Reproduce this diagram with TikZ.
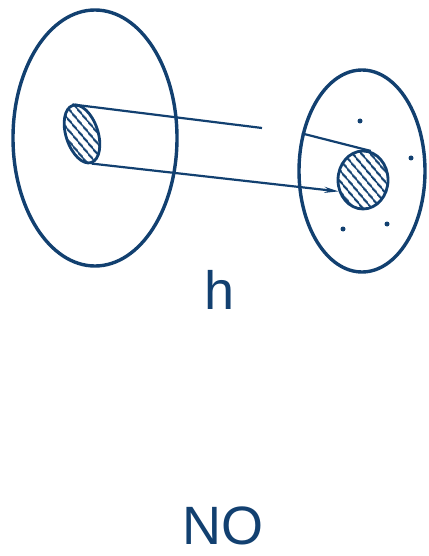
\documentclass[tikz,border=0pt]{standalone}
\usepackage{fontspec}
\setsansfont{Liberation Sans}
\usepackage{tikz}
\usetikzlibrary{
    shapes.geometric, arrows.meta, patterns.meta
}
\definecolor{ink}{RGB}{18,64,112}
\tikzset{
  set/.style={ellipse, draw=ink, line width=3.4pt, inner sep=0pt},
  part/.style={ellipse, draw=ink, line width=2.8pt, inner sep=0pt,
               pattern={Lines[angle=-50, distance=6.5pt, line width=2.2pt]},
               pattern color=ink},
  map/.style={draw=ink, line width=2.2pt},
  maparr/.style={map, -{Stealth[length=14pt, width=6pt]}},
  pt/.style={circle, fill=ink, inner sep=0pt, minimum size=5pt},
  lbl/.style={text=ink, font=\sffamily\fontsize{54}{60}\selectfont},
}

\begin{document}
\begin{tikzpicture}[x=1pt, y=-1pt]

  \useasboundingbox (0,0) rectangle (428,556);

  % domain and codomain
  \node[set, minimum width=164pt, minimum height=256pt] (lset) at (95,138) {};
  \node[set, minimum width=126pt, minimum height=202pt] (rset) at (362,171) {};

  \node[part, minimum width=32pt, minimum height=60pt, rotate=18] (lblob) at (82,134) {};
  \node[part, minimum width=50pt, minimum height=58pt] (rdisc) at (363,180) {};

  \node[pt] (p1) at (360,121) {};
  \node[pt] (p2) at (411,158) {};
  \node[pt] (p3) at (343,229) {};
  \node[pt] (p4) at (387,224) {};

  % the map
  \coordinate (gap) at (262,128);
  \draw[map] (lblob.north) -- (gap);
  \draw[map] (rset.148) -- (rdisc.75);
  \draw[maparr] (lblob.south) -- (rdisc.205);

  \node[lbl] (h) at (220,290) {h};
  \node[lbl] (no) at (223,526) {NO};

\end{tikzpicture}
\end{document}
